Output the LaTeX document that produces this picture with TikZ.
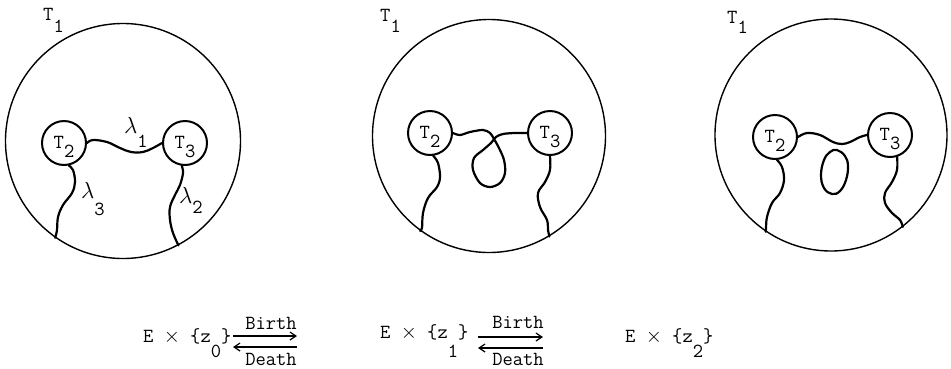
\documentclass[tikz,border=0pt]{standalone}
\usepackage{graphicx}
\usetikzlibrary{arrows.meta}
\newcommand\twfont{\fontsize{20}{24}\selectfont\ttfamily}
\newcommand\lam{\scalebox{1.12}{$\lambda$}}
\newcommand\sdig[2][10pt]{\raisebox{-#1}{#2}}
\tikzset{
  big/.style={circle, draw, line width=1.4pt, minimum size=#1, inner sep=0pt},
  big/.default=234pt,
  small/.style={circle, draw, line width=2pt, minimum size=44pt, inner sep=0pt,
    font=\twfont, text height=15pt, text depth=5pt},
  wire/.style={line width=2.2pt, line join=round, line cap=round},
  lbl/.style={inner sep=0pt, anchor=base west, font=\twfont},
  arr/.style={line width=1.3pt, -{Straight Barb[length=6pt,width=8pt,line width=1.2pt]}},
  wlab/.style={inner sep=0pt, font=\twfont}
}
\begin{document}
\begin{tikzpicture}[x=1pt,y=-1pt]
\useasboundingbox (0,0) rectangle (951,368);
% ---------------- panel 1 ----------------
\node[big=235pt] (c1) at (123,141) {};
\node[small] (a2) at (64,143) {T\sdig[9pt]{2}};
\node[small] (a3) at (185,143) {T\sdig[9pt]{3}};
\node[lbl] (a1l) at (43,20) {T\sdig[12pt]{1}};
\draw[wire] plot[smooth, tension=0.6] coordinates
  {(a2.east) (93,140) (107,142) (120,148) (131,152) (143,152) (153,148) (a3.west)};
\draw[wire] plot[smooth, tension=0.6] coordinates
  {(a2.282) (73,170) (75,182) (72,193) (63,205) (58,217) (57,230) (c1.235)};
\draw[wire] plot[smooth, tension=0.6] coordinates
  {(a3.262) (183,173) (180,185) (175,195) (170,207) (170,220) (173,233) (c1.298)};
\node[lbl] (l1) at (124,133) {\lam\sdig[14pt]{1}};
\node[lbl] (l3) at (81,198) {\lam\sdig[17pt]{3}};
\node[lbl] (l2) at (179,203) {\lam\sdig[10pt]{2}};
% ---------------- panel 2 ----------------
\node[big=233pt] (c2) at (489,136) {};
\node[small] (b2) at (430,133) {T\sdig[9pt]{2}};
\node[small] (b3) at (550,133) {T\sdig[9pt]{3}};
\node[lbl] (b1l) at (380,21) {T\sdig[11pt]{1}};
\draw[wire] plot[smooth, tension=0.55] coordinates
  {(b2.east) (460,135) (470,132) (483,130) (490,133) (494,139) (499,148) (504,160)
   (505,173) (500,183) (490,187) (480,183) (473,170) (474,158) (483,150) (491,143)
   (496,137) (503,134) (515,133) (b3.west)};
\draw[wire] plot[smooth, tension=0.6] coordinates
  {(b2.278) (438,163) (440,177) (437,187) (428,198) (423,213) (422,228) (c2.234)};
\draw[wire] plot[smooth, tension=0.6] coordinates
  {(b3.270) (550,170) (545,182) (538,193) (540,207) (547,220) (548,230) (c2.301)};
% ---------------- panel 3 ----------------
\node[big=232pt] (c3) at (831,135) {};
\node[small] (d2) at (775,137) {T\sdig[9pt]{2}};
\node[small] (d3) at (890,135) {T\sdig[9pt]{3}};
\node[lbl] (d1l) at (727,23) {T\sdig[10pt]{1}};
\draw[wire] plot[smooth, tension=0.6] coordinates
  {(d2.east) (807,133) (820,135) (833,142) (842,144) (850,142) (860,137) (d3.west)};
\draw[wire] plot[smooth, tension=0.6] coordinates
  {(d2.275) (782,167) (784,180) (780,193) (772,203) (767,217) (766,228) (c3.236)};
\draw[wire] plot[smooth, tension=0.6] coordinates
  {(d3.288) (897,170) (892,182) (885,193) (885,203) (892,213) (900,220) (c3.308)};
\draw[wire] plot[smooth cycle, tension=0.7] coordinates
  {(837,150) (845,156) (848,166) (846,180) (840,191) (832,194) (824,188) (821,175) (824,160) (830,152)};
% ---------------- bottom row ----------------
\node[lbl] (e0) at (143,342) {E $\times$ \{z\sdig[15pt]{0}\}};
\node[lbl] (e1) at (380,338) {E $\times$ \{z\sdig[19pt]{1}\}};
\node[lbl] (e2) at (625,342) {E $\times$ \{z\sdig[15pt]{2}\}};
\coordinate (p1a) at (233,336);
\coordinate (p1b) at (297,336);
\coordinate (q1a) at (297,347);
\coordinate (q1b) at (233,347);
\coordinate (p2a) at (478,337);
\coordinate (p2b) at (543,337);
\coordinate (q2a) at (543,348);
\coordinate (q2b) at (478,348);
\draw[arr] (p1a) -- (p1b);
\draw[arr] (q1a) -- (q1b);
\draw[arr] (p2a) -- (p2b);
\draw[arr] (q2a) -- (q2b);
\node[wlab] (bi1) at (271,323) {Birth};
\node[wlab] (de1) at (271,359) {Death};
\node[wlab] (bi2) at (518,322) {Birth};
\node[wlab] (de2) at (518,359) {Death};
\end{tikzpicture}
\end{document}
